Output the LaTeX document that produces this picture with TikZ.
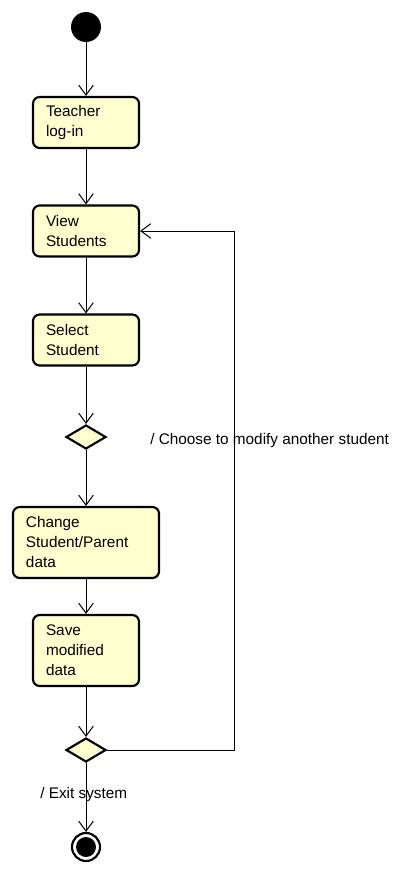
\documentclass[tikz,border=0pt]{standalone}
\usepackage{fontspec}
\setmainfont{Liberation Sans}
\usetikzlibrary{positioning}
\usetikzlibrary{arrows.meta}
\usetikzlibrary{shapes.geometric}
\definecolor{actfill}{RGB}{254,254,206}
\tikzset{
    activity/.style={draw, line width=1.6pt, rounded corners=5pt, fill=actfill,
        minimum width=79.5pt, minimum height=38.25pt, text width=60pt,
        inner xsep=9.75pt, align=left, font=\fontsize{11.5}{15}\selectfont},
    widebox/.style={activity, minimum width=109.5pt, text width=90pt},
    branch/.style={draw, diamond, line width=1.6pt, fill=actfill, inner sep=0pt,
        minimum width=30pt, minimum height=18pt},
    flow/.style={-{Straight Barb[length=7.5pt, width=11pt]}, line width=0.75pt},
    guard/.style={anchor=west, inner sep=0pt, font=\fontsize{11.5}{13}\selectfont}
}
\begin{document}
\begin{tikzpicture}[x=0.75pt, y=-0.75pt]
    \useasboundingbox (0,0) rectangle (418,874);
    % start and end
    \node[circle, fill=black, minimum size=22.5pt, inner sep=0pt] (start) at (86,27) {};
    \node[circle, draw, line width=1.6pt, fill=white, minimum size=21pt, inner sep=0pt] (stop) at (86,847) {};
    \fill (stop) circle (7.5pt);
    % activities
    \node[activity] (login) at (86,122.5) {Teacher\\log-in};
    \node[activity] (view) at (86,231) {View\\Students};
    \node[activity] (select) at (86,340) {Select\\Student};
    \node[branch] (d1) at (86,437) {};
    \node[widebox, minimum height=53.25pt] (change) at (86,542.5) {Change\\Student/Parent\\data};
    \node[activity, minimum height=53.25pt] (save) at (86,650.5) {Save\\modified\\data};
    \node[branch] (d2) at (86,750) {};
    % flows
    \draw[flow] (start) -- (login);
    \draw[flow] (login) -- (view);
    \draw[flow] (view) -- (select);
    \draw[flow] (select) -- (d1);
    \draw[flow] (d1) -- (change);
    \draw[flow] (change) -- (save);
    \draw[flow] (save) -- (d2);
    \draw[flow] (d2) -- (stop);
    \coordinate (loopbot) at (234,750);
    \coordinate (looptop) at (234,231);
    \draw[flow] (d2.east) -- (loopbot) -- (looptop) -- (view.east);
    % guards
    \node[guard] (again) at (150,441) {/ Choose to modify another student};
    \node[guard] (exit) at (40,795) {/ Exit system};
\end{tikzpicture}
\end{document}
